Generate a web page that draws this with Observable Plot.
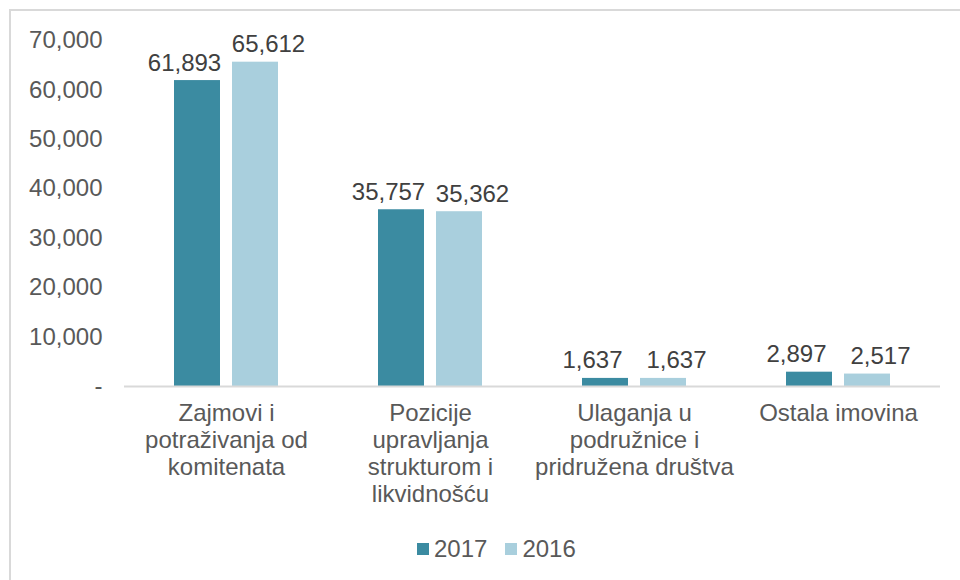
<!DOCTYPE html>
<html>
<head>
<meta charset="utf-8">
<script src="https://cdn.jsdelivr.net/npm/d3@7"></script>
<script src="https://cdn.jsdelivr.net/npm/@observablehq/plot@0.6"></script>
<style>
  html, body { margin: 0; padding: 0; background: #fff; width: 960px; height: 580px; overflow: hidden; }
  #frame { position: absolute; left: 9px; top: 9px; width: 1000px; height: 620px;
           border-top: 2px solid #d9d9d9; border-left: 2px solid #d9d9d9; }
  #chart { position: absolute; left: 0; top: 0; }
  #legend { position: absolute; left: 417px; top: 535px; display: flex; align-items: center;
            font-family: "Liberation Sans", Arial, sans-serif; font-size: 24px; color: #595959; }
  .sw { width: 12px; height: 12px; display: inline-block; margin-right: 5px; }
  .item { display: flex; align-items: center; margin-right: 18px; }
</style>
</head>
<body>
<div id="frame"></div>
<div id="chart"></div>
<div id="legend"></div>
<script>
const categories = [
  "Zajmovi i potraživanja od komitenata",
  "Pozicije upravljanja strukturom i likvidnošću",
  "Ulaganja u podružnice i pridružena društva",
  "Ostala imovina"
];
const categoryLabels = [
  "Zajmovi i\npotraživanja od\nkomitenata",
  "Pozicije\nupravljanja\nstrukturom i\nlikvidnošću",
  "Ulaganja u\npodružnice i\npridružena društva",
  "Ostala imovina"
];
const years = ["2017", "2016"];
const values2017 = [61893, 35757, 1637, 2897];
const values2016 = [65612, 35362, 1637, 2517];
const yTicks = [0, 10000, 20000, 30000, 40000, 50000, 60000, 70000];
const colors = ["#3b8ba1", "#a9cfdd"];

const data = [];
categories.forEach((c, i) => {
  data.push({category: c, year: "2017", value: values2017[i]});
  data.push({category: c, year: "2016", value: values2016[i]});
});

const fmt = d3.format(",");
const font = "'Liberation Sans', Arial, sans-serif";

const chart = Plot.plot({
  width: 960,
  height: 520,
  marginTop: 40,
  marginBottom: 134,
  marginLeft: 122,
  marginRight: 19,
  style: {fontFamily: font, fontSize: "24px", color: "#595959", background: "transparent"},
  fx: {domain: categories, paddingInner: 0, paddingOuter: 0, axis: null, label: null},
  x: {domain: years, paddingInner: 0.2, paddingOuter: 0.85, axis: null},
  y: {domain: [0, 70000], axis: null},
  color: {domain: years, range: colors},
  marks: [
    Plot.axisY({
      ticks: yTicks,
      tickSize: 0,
      tickPadding: 22,
      tickFormat: d => d === 0 ? "-" : fmt(d),
      fill: "#595959",
      fontSize: 24,
      label: null
    }),
    Plot.barY(data, {fx: "category", x: "year", y: "value", fill: "year"}),
    Plot.ruleY([0], {stroke: "#d9d9d9", strokeWidth: 2}),
    Plot.text(data.filter(d => d.year === "2017"), {
      fx: "category", x: "year", y: "value",
      text: d => fmt(d.value),
      lineAnchor: "bottom",
      dy: -10, dx: -13,
      fill: "#404040",
      fontSize: 24
    }),
    Plot.text(data.filter(d => d.year === "2016"), {
      fx: "category", x: "year", y: "value",
      text: d => fmt(d.value),
      lineAnchor: "bottom",
      dy: -10, dx: 13,
      fill: "#404040",
      fontSize: 24
    }),
    Plot.axisFx({
      anchor: "bottom",
      tickSize: 0,
      tickPadding: 15,
      tickFormat: d => categoryLabels[categories.indexOf(d)],
      lineHeight: 1.13,
      fill: "#595959",
      fontSize: 24,
      label: null
    })
  ]
});
document.getElementById("chart").appendChild(chart);

const legend = document.getElementById("legend");
years.forEach((y, i) => {
  const item = document.createElement("div");
  item.className = "item";
  const sw = document.createElement("span");
  sw.className = "sw";
  sw.style.background = colors[i];
  const t = document.createElement("span");
  t.textContent = y;
  item.appendChild(sw);
  item.appendChild(t);
  legend.appendChild(item);
});
</script>
</body>
</html>
